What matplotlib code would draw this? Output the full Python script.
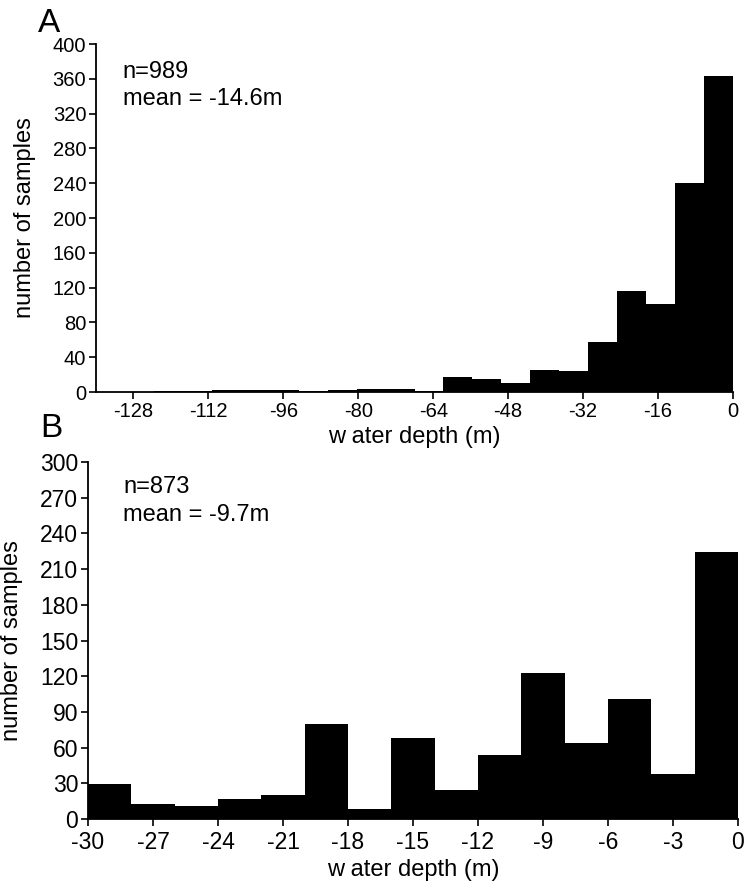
import numpy as np
import matplotlib
matplotlib.use("Agg")
import matplotlib.pyplot as plt

plt.rcParams["font.family"] = ["Liberation Sans", "DejaVu Sans"]
plt.rcParams["axes.unicode_minus"] = False

# panel A: 22 bins between -136 m and 0 m
edges_a = np.linspace(-136, 0, 23)
counts_a = [0, 0, 1, 1, 2, 2, 2, 1, 2, 3, 4, 1,
            17, 15, 10, 25, 24, 58, 116, 101, 240, 363]
xticks_a = [-128, -112, -96, -80, -64, -48, -32, -16, 0]
yticks_a = list(range(0, 401, 40))

# panel B: 2 m bins between -30 m and 0 m
edges_b = np.arange(-30, 1, 2)
counts_b = [29, 13, 11, 17, 20, 80, 8, 68, 24, 54, 123, 64, 101, 38, 224]
xticks_b = [-30, -27, -24, -21, -18, -15, -12, -9, -6, -3, 0]
yticks_b = list(range(0, 301, 30))

fig = plt.figure(figsize=(7.46, 8.86), dpi=100)

ax_a = fig.add_axes([96 / 746, 1 - 392 / 886, 637 / 746, 348 / 886])
ax_b = fig.add_axes([88 / 746, 1 - 819 / 886, 650 / 746, 357 / 886])


def style_axis(ax, xticks, yticks, xlim, ylim, size, xpad):
    ax.set_xlim(*xlim)
    ax.set_ylim(*ylim)
    ax.set_xticks(xticks)
    ax.set_yticks(yticks)
    for side in ["top", "right"]:
        ax.spines[side].set_visible(False)
    for side in ["left", "bottom"]:
        ax.spines[side].set_linewidth(1.3)
    ax.tick_params(direction="out", length=5, width=1.2,
                   labelsize=size, pad=2)
    ax.tick_params(axis="x", pad=xpad)
    ax.set_facecolor("white")


ax_a.stairs(counts_a, edges_a, fill=True, color="black")
style_axis(ax_a, xticks_a, yticks_a, (-136, 0), (0, 400), 14.5, 2)
ax_a.set_xlabel("w ater depth (m)", fontsize=17)
ax_a.xaxis.set_label_coords(0.5, -0.098)
ax_a.set_ylabel("number of samples", fontsize=17)
ax_a.yaxis.set_label_coords(-0.094, 0.5)
ax_a.text(0.042, 0.902, "n=989", transform=ax_a.transAxes,
          fontsize=17, va="baseline", ha="left")
ax_a.text(0.042, 0.825, "mean = -14.6m", transform=ax_a.transAxes,
          fontsize=17, va="baseline", ha="left")

ax_b.stairs(counts_b, edges_b, fill=True, color="black")
style_axis(ax_b, xticks_b, yticks_b, (-30, 0), (0, 300), 16.5, 3.5)
ax_b.set_xlabel("w ater depth (m)", fontsize=17)
ax_b.xaxis.set_label_coords(0.5, -0.113)
ax_b.set_ylabel("number of samples", fontsize=17)
ax_b.yaxis.set_label_coords(-0.1, 0.5)
ax_b.text(0.054, 0.913, "n=873", transform=ax_b.transAxes,
          fontsize=17, va="baseline", ha="left")
ax_b.text(0.054, 0.835, "mean = -9.7m", transform=ax_b.transAxes,
          fontsize=17, va="baseline", ha="left")

fig.text(38 / 746, 1 - 32 / 886, "A", fontsize=24, va="baseline", ha="left")
fig.text(40 / 746, 1 - 437 / 886, "B", fontsize=24, va="baseline", ha="left")

fig.savefig("out.png", dpi=100, facecolor="white")
